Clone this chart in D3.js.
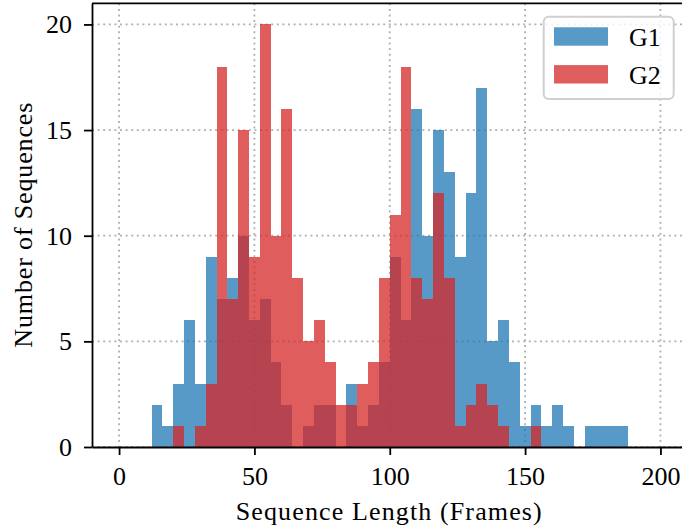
<!DOCTYPE html>
<html>
<head>
<meta charset="utf-8">
<script src="https://cdn.jsdelivr.net/npm/d3@7"></script>
<style>
  html, body { margin: 0; padding: 0; background: #fff; }
  svg text { font-family: "Liberation Serif", "DejaVu Serif", serif; fill: #000; }
</style>
</head>
<body>
<svg id="chart"></svg>
<script>
// histogram bin edges (frames)
var binEdges = [0, 4, 8, 12, 16, 20, 24, 28, 32, 36, 40, 44, 48, 52, 56, 60, 64, 68, 72, 76,
                80, 84, 88, 92, 96, 100, 104, 108, 112, 116, 120, 124, 128, 132, 136, 140, 144, 148, 152, 156,
                160, 164, 168, 172, 176, 180, 184, 188, 192, 196, 200];

// counts per bin
var g1Counts = [0, 0, 0, 2, 1, 3, 6, 3, 9, 7, 8, 10, 6, 7, 4, 2, 0, 1, 2, 2,
                0, 3, 1, 2, 4, 9, 6, 16, 10, 15, 13, 9, 12, 17, 5, 6, 4, 1, 2, 1,
                2, 1, 0, 1, 1, 1, 1, 0, 0, 0];
var g2Counts = [0, 0, 0, 0, 0, 1, 0, 1, 3, 18, 7, 15, 9, 20, 10, 16, 8, 5, 6, 4,
                2, 2, 3, 4, 8, 11, 18, 8, 7, 12, 8, 1, 2, 3, 2, 1, 0, 0, 1, 0,
                0, 0, 0, 0, 0, 0, 0, 0, 0, 0];

var seriesNames = ['G1', 'G2'];
var seriesColors = ['#1f77b4', '#d62728'];

var xTicks = [0, 50, 100, 150, 200];
var yTicks = [0, 5, 10, 15, 20];

// set the dimensions and margins of the graph
var margin = {top: 3.3, left: 92};
var width = 595.5;
var height = 443.7;
var fontSize = 26;

var svg = d3.select('#chart')
    .attr('width', 682)
    .attr('height', 528);

var g = svg.append('g')
    .attr('transform', 'translate(' + margin.left + ',' + margin.top + ')');

var x = d3.scaleLinear().domain([-10, 210]).range([0, width]);
var y = d3.scaleLinear().domain([0, 21]).range([height, 0]);

// dotted gridlines, under the bars
g.append('g')
    .selectAll('line.vgrid')
    .data(xTicks)
    .join('line')
    .attr('x1', function(d) { return x(d); })
    .attr('x2', function(d) { return x(d); })
    .attr('y1', 0)
    .attr('y2', height)
    .attr('stroke', '#b0b0b0')
    .attr('stroke-width', 1.8)
    .attr('stroke-dasharray', '2,3.6');

g.append('g')
    .selectAll('line.hgrid')
    .data(yTicks)
    .join('line')
    .attr('x1', 0)
    .attr('x2', width)
    .attr('y1', function(d) { return y(d); })
    .attr('y2', function(d) { return y(d); })
    .attr('stroke', '#b0b0b0')
    .attr('stroke-width', 1.8)
    .attr('stroke-dasharray', '2,3.6');

// bars: G1 first, G2 drawn over it
var allCounts = [g1Counts, g2Counts];
allCounts.forEach(function(counts, s) {
    var bins = counts.map(function(c, i) {
        return {x0: binEdges[i], x1: binEdges[i + 1], c: c};
    }).filter(function(b) { return b.c > 0; });

    g.append('g')
        .attr('shape-rendering', 'crispEdges')
        .selectAll('rect')
        .data(bins)
        .join('rect')
        .attr('x', function(d) { return x(d.x0); })
        .attr('width', function(d) { return x(d.x1) - x(d.x0); })
        .attr('y', function(d) { return y(d.c); })
        .attr('height', function(d) { return y(0) - y(d.c); })
        .attr('fill', seriesColors[s])
        .attr('fill-opacity', 0.75);
});

// axes
var xAxis = g.append('g')
    .attr('transform', 'translate(0,' + height + ')')
    .call(d3.axisBottom(x).tickValues(xTicks).tickSize(8).tickSizeOuter(0).tickPadding(12));

var yAxis = g.append('g')
    .call(d3.axisLeft(y).tickValues(yTicks).tickSize(8).tickSizeOuter(0).tickPadding(12));

[xAxis, yAxis].forEach(function(a) {
    a.attr('font-family', null).attr('font-size', null);
    a.select('.domain').attr('stroke', '#000').attr('stroke-width', 1.8);
    a.selectAll('.tick line').attr('stroke', '#000').attr('stroke-width', 1.8);
    a.selectAll('.tick text').style('font-size', fontSize + 'px');
});

// top spine
g.append('line')
    .attr('x1', 0).attr('x2', width)
    .attr('y1', 0).attr('y2', 0)
    .attr('stroke', '#000')
    .attr('stroke-width', 1.8);

// axis labels
svg.append('text')
    .attr('x', margin.left + width / 2 - 1)
    .attr('y', 520)
    .attr('text-anchor', 'middle')
    .attr('textLength', 306)
    .attr('lengthAdjust', 'spacing')
    .style('font-size', fontSize + 'px')
    .text('Sequence Length (Frames)');

svg.append('text')
    .attr('transform', 'translate(32,' + (margin.top + height / 2) + ') rotate(-90)')
    .attr('text-anchor', 'middle')
    .attr('textLength', 245)
    .attr('lengthAdjust', 'spacing')
    .style('font-size', fontSize + 'px')
    .text('Number of Sequences');

// legend
var legend = svg.append('g')
    .attr('transform', 'translate(543.7,16.7)');

legend.append('rect')
    .attr('width', 130)
    .attr('height', 82.3)
    .attr('rx', 5)
    .attr('fill', '#fff')
    .attr('fill-opacity', 0.8)
    .attr('stroke', '#d0d0d0')
    .attr('stroke-width', 2);

seriesNames.forEach(function(name, i) {
    var row = legend.append('g')
        .attr('transform', 'translate(0,' + (i * 37.8) + ')');
    row.append('rect')
        .attr('x', 10.3)
        .attr('y', 10.6)
        .attr('width', 54)
        .attr('height', 18.4)
        .attr('fill', seriesColors[i])
        .attr('fill-opacity', 0.75);
    row.append('text')
        .attr('x', 85.3)
        .attr('y', 29)
        .style('font-size', fontSize + 'px')
        .text(name);
});
</script>
</body>
</html>
